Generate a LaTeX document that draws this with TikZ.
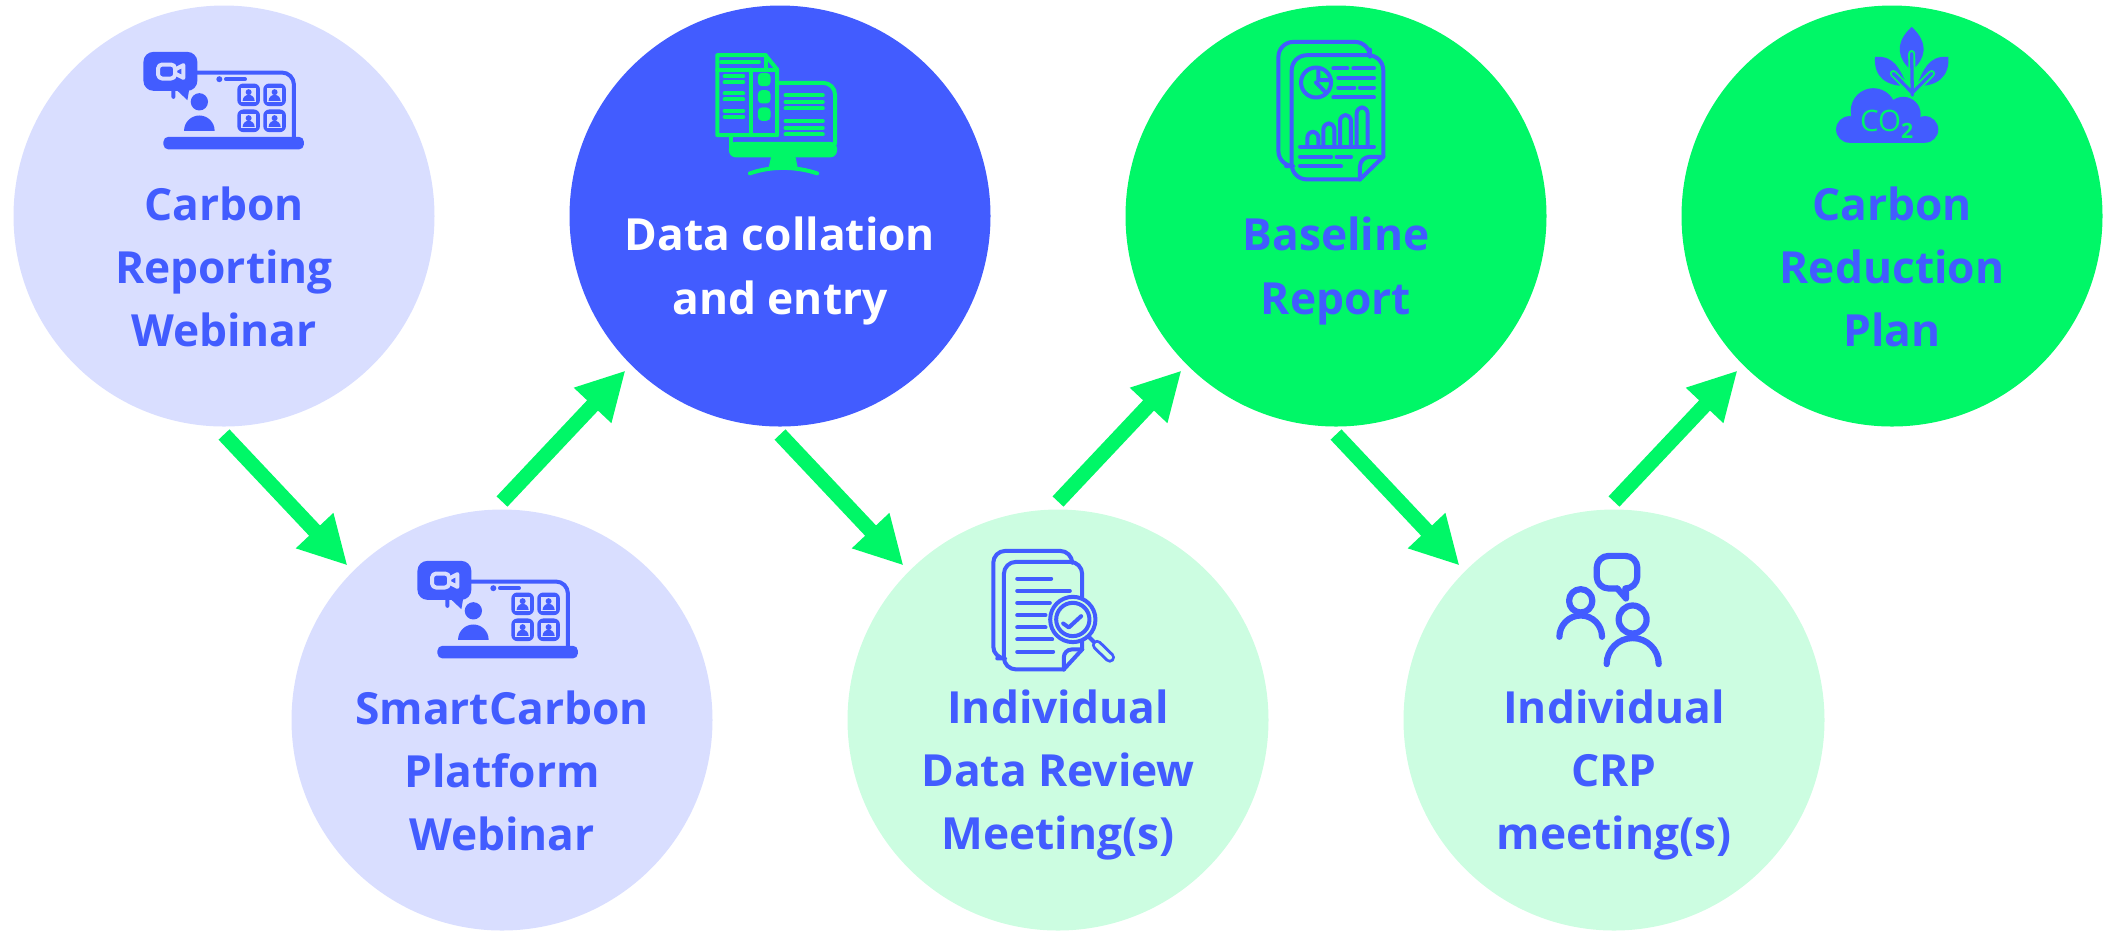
\documentclass[tikz,border=0pt]{standalone}
\usepackage{fontspec}
\setmainfont{Open Sans}
\usetikzlibrary{arrows.meta, positioning}

\definecolor{brandblue}{RGB}{66,92,255}
\definecolor{brandgreen}{RGB}{0,247,103}
\definecolor{paleblue}{RGB}{217,222,255}
\definecolor{palegreen}{RGB}{204,253,225}

\tikzset{
    stage/.style={circle, minimum size=4.21cm, inner sep=0pt, outer sep=.8mm},
    caption/.style={align=center, text=brandblue, font=\fontsize{12.6}{18}\selectfont\bfseries},
    flow/.style={-{Triangle[length=4.8mm,width=4.8mm]}, line width=1.5mm, brandgreen},
    icon at/.style={shift={#1}, x=.0333mm, y=-.0333mm},
    thin ink/.style={line width=.4mm, line cap=round, line join=round},
}

\newcommand{\laptopicon}[1]{
    \begin{scope}[icon at={#1}, shift={(-282,-558)}, thin ink, brandblue]
        \draw[rounded corners=1.2mm] (130,200) -- (130,127) -- (492,127) -- (492,325);
        \fill[rounded corners=.5mm] (100,320) -- (100,358) -- (522,358) -- (522,320) -- cycle;
        \fill[rounded corners=1mm] (40,65) -- (202,65) -- (202,182) -- (40,182) -- cycle;
        \fill (135,175) -- (172,210) -- (178,175) -- cycle;
        \draw[paleblue, rounded corners=.4mm] (84,103) rectangle (135,145);
        \draw[paleblue] (135,118) -- (160,105) -- (160,143) -- (135,130) -- cycle;
        \fill (268,147) circle[radius=9];
        \draw[line width=.4mm] (288,147) -- (345,147);
        \fill (208,215) circle[radius=26];
        \fill (162,302) arc[start angle=180, end angle=0, radius=1.53mm] -- cycle;
        \foreach \tx/\ty in {322/160, 400/160, 322/238, 400/238} {
            \fill[rounded corners=.6mm] (\tx,\ty) rectangle ++(68,68);
            \fill[paleblue] (\tx+12,\ty+14) rectangle ++(44,42);
            \fill (\tx+34,\ty+26) circle[radius=9];
            \fill (\tx+16,\ty+52) arc[start angle=180, end angle=0, radius=.6mm] -- cycle;
        }
    \end{scope}
}

\newcommand{\monitoricon}[1]{
    \begin{scope}[icon at={#1}, shift={(-238.5,-528)}, thin ink, brandgreen]
        \draw (50,45) -- (195,45) -- (230,88) -- (230,285) -- (50,285) -- cycle;
        \draw (195,45) -- (195,88) -- (230,88) (50,88) -- (195,88) (150,88) -- (150,285);
        \draw (62,65) -- (175,65);
        \foreach \ty in {108, 126, 160, 178, 212, 230}
            \draw (72,\ty) -- (128,\ty);
        \foreach \ty in {98, 150, 202}
            \fill[rounded corners=.4mm] (172,\ty) rectangle ++(38,40);
        \draw[rounded corners=1.2mm] (230,128) -- (404,128) -- (404,310);
        \draw (91,285) -- (91,320);
        \fill[rounded corners=.7mm] (85,305) -- (85,352) -- (410,352) -- (410,305) -- cycle;
        \foreach \ty in {165, 185, 205, 243, 263, 283}
            \draw (255,\ty) -- (367,\ty);
        \fill (212,350) -- (285,350) -- (292,384) -- (204,384) -- cycle;
        \draw (148,400) .. controls (210,378) and (285,378) .. (350,400);
    \end{scope}
}

\newcommand{\reporticon}[1]{
    \begin{scope}[icon at={#1}, shift={(-228,-558)}, thin ink, brandblue]
        \draw[rounded corners=1.5mm] (78,408) -- (55,408) -- (55,35) -- (330,35) -- (330,58);
        \draw[rounded corners=1.5mm] (300,448) -- (95,448) -- (95,75) -- (370,75) -- (370,380);
        \draw (370,380) -- (300,448);
        \draw[rounded corners=1mm] (300,448) -- (300,380) -- (370,380);
        \draw (168,157) circle[radius=45];
        \draw (175,115) -- (175,150) -- (213,150) (168,157) -- (197,187);
        \draw (220,114) -- (262,114) (280,114) -- (342,114);
        \draw (235,143) -- (342,143);
        \draw (235,172) -- (283,172) (300,172) -- (342,172);
        \draw (220,202) -- (342,202);
        \foreach \tx/\ty in {142/305, 190/280, 240/255, 290/232}
            \draw[rounded corners=.6mm] (\tx,350) -- (\tx,\ty) -- (\tx+33,\ty) -- (\tx+33,350);
        \draw (120,350) -- (342,350);
        \draw (120,380) -- (213,380) (230,380) -- (273,380);
        \draw (120,408) -- (243,408);
    \end{scope}
}

\newcommand{\reviewicon}[1]{
    \begin{scope}[icon at={#1}, shift={(-232.5,-540)}, thin ink, brandblue]
        \draw[rounded corners=1.2mm] (50,355) -- (38,355) -- (38,32) -- (275,32) -- (275,62);
        \draw[rounded corners=1.2mm] (250,388) -- (70,388) -- (70,65) -- (305,65) -- (305,328);
        \draw (305,328) -- (250,388);
        \draw[rounded corners=.8mm] (250,388) -- (250,328) -- (305,328);
        \foreach \ty/\tx in {115/212, 152/268, 188/208, 225/195, 262/195, 298/215, 335/218}
            \draw (110,\ty) -- (\tx,\ty);
        \filldraw[fill=palegreen] (277,238) circle[radius=68];
        \draw (277,238) circle[radius=50];
        \draw (248,250) -- (265,262) -- (302,228);
        \draw (325,290) -- (345,310);
        \draw[line width=1.05mm] (350,315) -- (388,352);
        \draw[line width=.45mm, palegreen] (350,315) -- (388,352);
    \end{scope}
}

\newcommand{\meetingicon}[1]{
    \begin{scope}[icon at={#1}, shift={(-222,-540)}, brandblue, line width=.62mm, line cap=round, line join=round]
        \draw[rounded corners=1.2mm] (232,145) -- (170,145) -- (170,47) -- (292,47) -- (292,145) -- (258,145);
        \draw (232,145) -- (258,175) -- (258,145);
        \draw (122,182) circle[radius=35];
        \draw (58,290) arc[start angle=180, end angle=0, radius=2.13mm];
        \draw (278,238) circle[radius=42];
        \draw (200,372) arc[start angle=180, end angle=0, radius=2.6mm];
    \end{scope}
}

\newcommand{\planticon}[1]{
    \begin{scope}[icon at={#1}, shift={(-216,-588)}, brandblue]
        \fill (275,20) .. controls (220,70) and (235,120) .. (275,150) .. controls (315,120) and (330,70) .. (275,20);
        \fill (165,110) .. controls (225,105) and (240,150) .. (262,197) .. controls (200,200) and (160,170) .. (165,110);
        \fill (385,110) .. controls (325,105) and (310,150) .. (290,197) .. controls (350,200) and (390,170) .. (385,110);
        \draw[brandgreen, line width=.7mm, line cap=round, line join=round]
            (275,100) -- (277,218) (220,160) -- (277,218) -- (335,160);
        \draw[brandblue, line width=.33mm, line cap=round, line join=round]
            (275,100) -- (277,225) (220,160) -- (277,218) -- (335,160);
        \fill (88,328) circle[radius=40] (160,272) circle[radius=68]
            (250,282) circle[radius=52] (315,328) circle[radius=40];
        \fill (88,300) rectangle (315,368);
        \node[text=brandgreen, font=\fontsize{8.4}{10}\selectfont, inner sep=0pt] (co) at (200,312) {CO\raisebox{-.45ex}{\fontsize{6}{6}\selectfont\bfseries 2}};
    \end{scope}
}

\begin{document}
\begin{tikzpicture}[
    node distance=5.04cm and 2.78cm,
    on grid,
]

    \useasboundingbox (0,0) rectangle (21.07,-9.34);

    % circles
    \node[stage, fill=paleblue]  (webinar) at (2.24,-2.16)        {};
    \node[stage, fill=paleblue,  below right =of webinar] (platform) {};
    \node[stage, fill=brandblue, above right =of platform] (entry)   {};
    \node[stage, fill=palegreen, below right =of entry]   (review)   {};
    \node[stage, fill=brandgreen, above right =of review] (baseline) {};
    \node[stage, fill=palegreen, below right =of baseline] (crp)     {};
    \node[stage, fill=brandgreen, above right =of crp]    (plan)     {};

    % captions
    \node[caption] (webinartext)  at ([yshift=-5.1mm]webinar)  {Carbon\\Reporting\\Webinar};
    \node[caption] (platformtext) at ([yshift=-5.1mm]platform) {SmartCarbon\\Platform\\Webinar};
    \node[caption, text=white] (entrytext) at ([yshift=-5.5mm]entry) {Data collation\\and entry};
    \node[caption] (reviewtext)   at ([yshift=-5.5mm]review)   {Individual\\Data Review\\Meeting(s)};
    \node[caption] (baselinetext) at ([yshift=-5.5mm]baseline) {Baseline\\Report};
    \node[caption] (crptext)      at ([yshift=-5.5mm]crp)      {Individual\\CRP\\meeting(s)};
    \node[caption] (plantext)     at ([yshift=-5.1mm]plan)     {Carbon\\Reduction\\Plan};

    % icons
    \laptopicon{(webinar)}
    \laptopicon{([xshift=-.4mm,yshift=-.5mm]platform)}
    \monitoricon{(entry)}
    \reviewicon{(review)}
    \reporticon{(baseline)}
    \meetingicon{(crp)}
    \planticon{(plan)}

    % arrows
    \draw[flow] (webinar.south)  -- (platform.north west);
    \draw[flow] (platform.north) -- (entry.south west);
    \draw[flow] (entry.south)    -- (review.north west);
    \draw[flow] (review.north)   -- (baseline.south west);
    \draw[flow] (baseline.south) -- (crp.north west);
    \draw[flow] (crp.north)      -- (plan.south west);
\end{tikzpicture}
\end{document}
